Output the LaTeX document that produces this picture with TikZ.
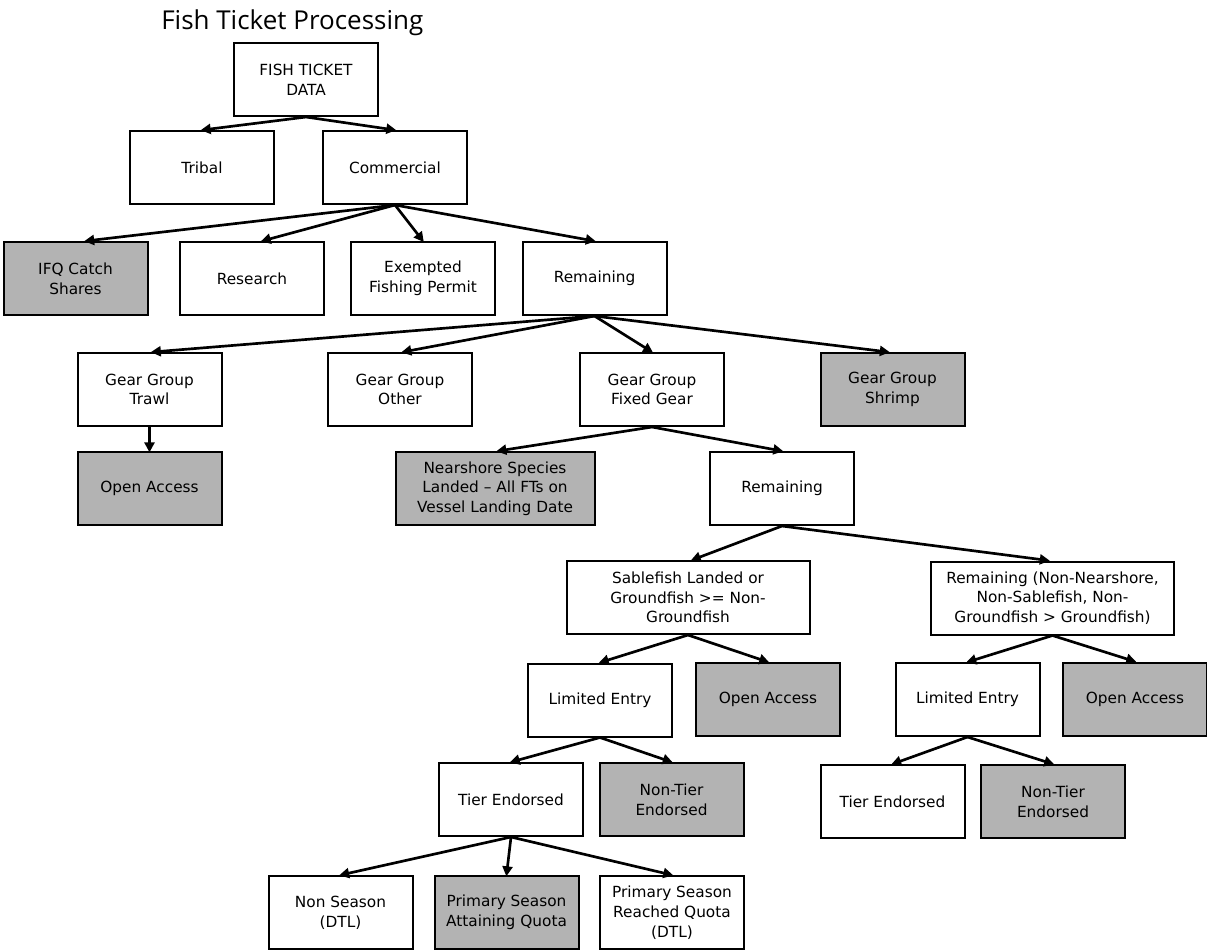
\documentclass[tikz,border=0pt]{standalone}
\usepackage{fontspec}
\setmainfont{DejaVu Sans}
\newfontfamily\titlefont{Open Sans}
\usetikzlibrary{arrows.meta}
\definecolor{boxgray}{RGB}{179,179,179}
\tikzset{
  box/.style={draw=black, line width=1.5pt, fill=white, align=center, inner sep=0pt,
    minimum height=54.75pt, minimum width=108pt,
    font=\fontsize{11.5}{14.8}\selectfont},
  gbox/.style={box, fill=boxgray},
  wide/.style={minimum width=149.25pt},
  wider/.style={minimum width=182.25pt},
  arr/.style={line width=2pt, -{Triangle[length=7.5pt,width=7.5pt]}, shorten >=-1pt},
}
\begin{document}
\begin{tikzpicture}[x=0.75pt,y=-0.75pt]
\useasboundingbox (0,0) rectangle (1207,951);
\node[anchor=base west, inner sep=0pt, font=\titlefont\fontsize{19.5}{24}\selectfont] (title) at (161,29) {Fish Ticket Processing};

\node[box] (ftd) at (306,79.5) {FISH TICKET\\DATA};
\node[box] (tribal) at (202,167.5) {Tribal};
\node[box] (comm) at (395,167.5) {Commercial};

\node[gbox] (ifq) at (75.5,278.5) {IFQ Catch\\Shares};
\node[box] (research) at (252,278.5) {Research};
\node[box] (efp) at (423,278.5) {Exempted\\Fishing Permit};
\node[box] (rem1) at (594.5,278.5) {Remaining};

\node[box] (trawl) at (149.5,389.5) {Gear Group\\Trawl};
\node[box] (other) at (400,389.5) {Gear Group\\Other};
\node[box] (fixed) at (652,389.5) {Gear Group\\Fixed Gear};
\node[gbox] (shrimp) at (892.5,389.5) {Gear Group\\Shrimp};

\node[gbox] (oa1) at (149.5,488.5) {Open Access};
\node[gbox,wide] (near) at (495,488.5) {Nearshore Species\\Landed -- All FTs on\\Vessel Landing Date};
\node[box] (rem2) at (782,488.5) {Remaining};

\node[box,wider] (sable) at (688,597.5) {Sablefish Landed or\\Groundfish >= Non-\\Groundfish};
\node[box,wider] (rem3) at (1052.5,598) {Remaining (Non-Nearshore,\\Non-Sablefish, Non-\\Groundfish > Groundfish)};

\node[box] (le1) at (600,700) {Limited Entry};
\node[gbox] (oa2) at (768,699.5) {Open Access};
\node[box] (le2) at (967.5,699.5) {Limited Entry};
\node[gbox] (oa3) at (1135,699) {Open Access};

\node[box] (te1) at (511,799.5) {Tier Endorsed};
\node[gbox] (nte1) at (671.5,799.5) {Non-Tier\\Endorsed};
\node[box] (te2) at (892.5,801.5) {Tier Endorsed};
\node[gbox] (nte2) at (1053,801.5) {Non-Tier\\Endorsed};

\node[box] (ns) at (340.5,912.5) {Non Season\\(DTL)};
\node[gbox] (psa) at (506.5,912.5) {Primary Season\\Attaining Quota};
\node[box] (psr) at (672,912.5) {Primary Season\\Reached Quota\\(DTL)};

\draw[arr] (ftd.south) -- (tribal.north);
\draw[arr] (ftd.south) -- (comm.north);
\draw[arr] (comm.south) -- ([xshift=7.5pt]ifq.north);
\draw[arr] (comm.south) -- ([xshift=7.5pt]research.north);
\draw[arr] (comm.south) -- (efp.north);
\draw[arr] (comm.south) -- (rem1.north);
\draw[arr] (rem1.south) -- ([xshift=2pt]trawl.north);
\draw[arr] (rem1.south) -- ([xshift=2pt]other.north);
\draw[arr] (rem1.south) -- (fixed.north);
\draw[arr] (rem1.south) -- ([xshift=-3pt]shrimp.north);
\draw[arr] (trawl.south) -- (oa1.north);
\draw[arr] (fixed.south) -- ([xshift=2pt]near.north);
\draw[arr] (fixed.south) -- (rem2.north);
\draw[arr] (rem2.south) -- ([xshift=3pt]sable.north);
\draw[arr] (rem2.south) -- ([xshift=-3pt]rem3.north);
\draw[arr] (sable.south) -- (le1.north);
\draw[arr] (sable.south) -- (oa2.north);
\draw[arr] (rem3.south) -- (le2.north);
\draw[arr] (rem3.south) -- (oa3.north);
\draw[arr] (le1.south) -- (te1.north);
\draw[arr] (le1.south) -- (nte1.north);
\draw[arr] (le2.south) -- (te2.north);
\draw[arr] (le2.south) -- (nte2.north);
\draw[arr] (te1.south) -- (ns.north);
\draw[arr] (te1.south) -- (psa.north);
\draw[arr] (te1.south) -- (psr.north);
\end{tikzpicture}
\end{document}
